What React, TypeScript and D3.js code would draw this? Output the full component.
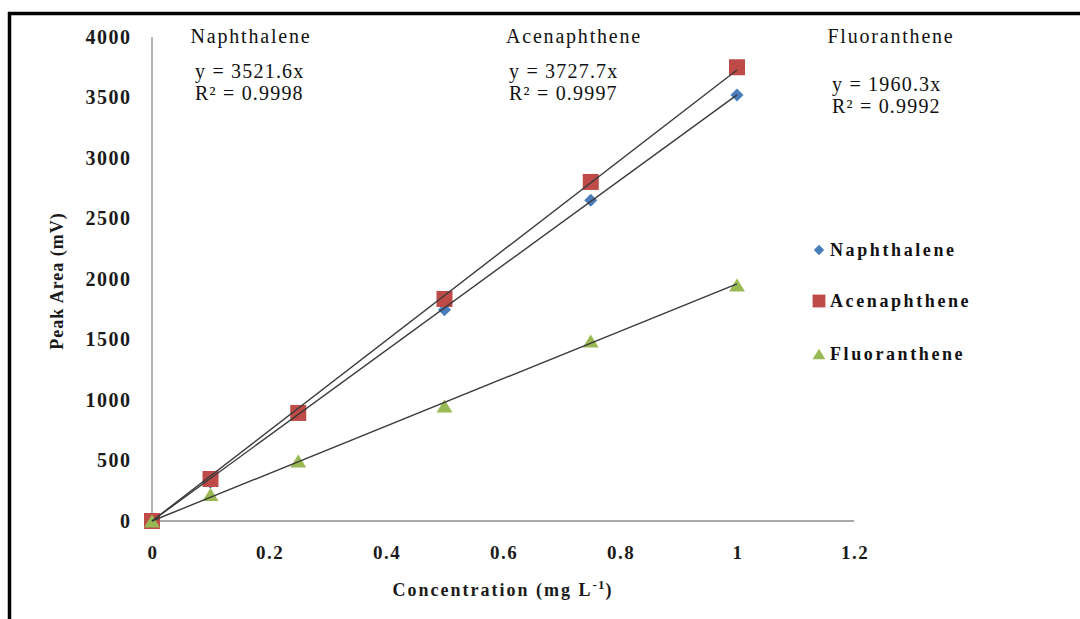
import React from "react";
import * as d3 from "d3";

const conc = [0, 0.1, 0.25, 0.5, 0.75, 1];
const naphthalene = [0, 320, 880, 1745, 2650, 3520];
const acenaphthene = [0, 347, 893, 1835, 2802, 3750];
const fluoranthene = [0, 220, 496, 950, 1488, 1950];
const seriesNames = ["Naphthalene", "Acenaphthene", "Fluoranthene"];
const slopes = [3521.6, 3727.7, 1960.3];
const r2 = ["0.9998", "0.9997", "0.9992"];
const xTicks = [0, 0.2, 0.4, 0.6, 0.8, 1, 1.2];
const yTicks = [0, 500, 1000, 1500, 2000, 2500, 3000, 3500, 4000];

const W = 1080;
const H = 619;
const colors = ["#4a7ebb", "#be4b48", "#98b954"];

function markerPath(si: number, scale = 1): string {
  if (si === 0) {
    const r = 6.5 * scale;
    return `M0,${-r}L${r},0L0,${r}L${-r},0Z`;
  }
  if (si === 1) {
    const s = 8 * scale;
    return `M${-s},${-s}H${s}V${s}H${-s}Z`;
  }
  const w = 8 * scale;
  const h = 6.5 * scale;
  return `M0,${-h}L${w},${h}L${-w},${h}Z`;
}

export default function App() {
  const x = d3.scaleLinear().domain([0, 1.2]).range([152, 854]);
  const y = d3.scaleLinear().domain([0, 4000]).range([521, 37]);
  const data = [naphthalene, acenaphthene, fluoranthene];
  const serif = "'Liberation Serif', 'Times New Roman', serif";

  const titleX = [251, 574, 891];
  const eqX = [195, 509, 832];
  const eqY = [[78, 100], [78, 100], [91, 113]];

  return (
    <svg
      width={W}
      height={H}
      style={{ position: "absolute", left: 0, top: 0, background: "#fff" }}
      fontFamily={serif}
    >
      <rect x={0} y={0} width={W} height={H} fill="#fff" />
      {/* frame */}
      <line x1={8} y1={13.5} x2={W} y2={13.5} stroke="#000" strokeWidth={3.5} />
      <line x1={9.5} y1={12} x2={9.5} y2={H} stroke="#000" strokeWidth={3.5} />

      {/* axes */}
      <line x1={x(0)} y1={y(0)} x2={x(1.2)} y2={y(0)} stroke="#8c8c8c" strokeWidth={1.3} />
      <line x1={x(0)} y1={y(0)} x2={x(0)} y2={y(4000)} stroke="#8c8c8c" strokeWidth={1.3} />

      {yTicks.map((t) => (
        <text
          key={"y" + t}
          x={131.5}
          y={y(t) + 6.5}
          textAnchor="end"
          fontSize={20}
          fontWeight="bold"
          letterSpacing={1.5}
          fill="#1a1a1a"
        >
          {t}
        </text>
      ))}
      {xTicks.map((t) => (
        <text
          key={"x" + t}
          x={x(t) + 1}
          y={559}
          textAnchor="middle"
          fontSize={19}
          fontWeight="bold"
          letterSpacing={1.5}
          fill="#1a1a1a"
        >
          {String(t)}
        </text>
      ))}

      <text x={503} y={596} textAnchor="middle" fontSize={18} fontWeight="bold" fill="#1a1a1a" letterSpacing={2}>
        Concentration (mg L
        <tspan fontSize={13} dy={-7} letterSpacing={1}>-1</tspan>
        <tspan dy={7}>)</tspan>
      </text>
      <text
        transform={`translate(63,${281}) rotate(-90)`}
        textAnchor="middle"
        fontSize={18}
        fontWeight="bold"
        fill="#1a1a1a"
        letterSpacing={1}
      >
        Peak Area (mV)
      </text>

      {/* trendlines under markers */}
      {data.map((vals, si) =>
        vals.map((v, i) => (
          <path
            key={si + "-" + i}
            d={markerPath(si)}
            transform={`translate(${x(conc[i])},${y(v)})`}
            fill={colors[si]}
          />
        ))
      )}
      {slopes.map((s, si) => (
        <line
          key={"tl" + si}
          x1={x(0)}
          y1={y(0)}
          x2={x(1)}
          y2={y(s * 1)}
          stroke="#3a3a3a"
          strokeWidth={1.4}
        />
      ))}

      {/* annotations */}
      {seriesNames.map((n, si) => (
        <g key={"a" + si}>
          <text x={titleX[si]} y={43} textAnchor="middle" fontSize={20} fill="#111" letterSpacing={1.8}>
            {n}
          </text>
          <text x={eqX[si]} y={eqY[si][0]} fontSize={20} fill="#111" letterSpacing={1.2}>
            y = {slopes[si]}x
          </text>
          <text x={eqX[si]} y={eqY[si][1]} fontSize={20} fill="#111" letterSpacing={1.2}>
            R² = {r2[si]}
          </text>
        </g>
      ))}

      {/* legend */}
      {seriesNames.map((n, si) => {
        const ly = [250, 301, 354][si];
        return (
          <g key={"l" + si}>
            <path
              d={markerPath(si, 0.8)}
              transform={`translate(819,${ly})`}
              fill={colors[si]}
            />
            <text x={830} y={ly + 6} fontSize={18} fontWeight="bold" fill="#111" letterSpacing={2.6}>
              {n}
            </text>
          </g>
        );
      })}
    </svg>
  );
}
